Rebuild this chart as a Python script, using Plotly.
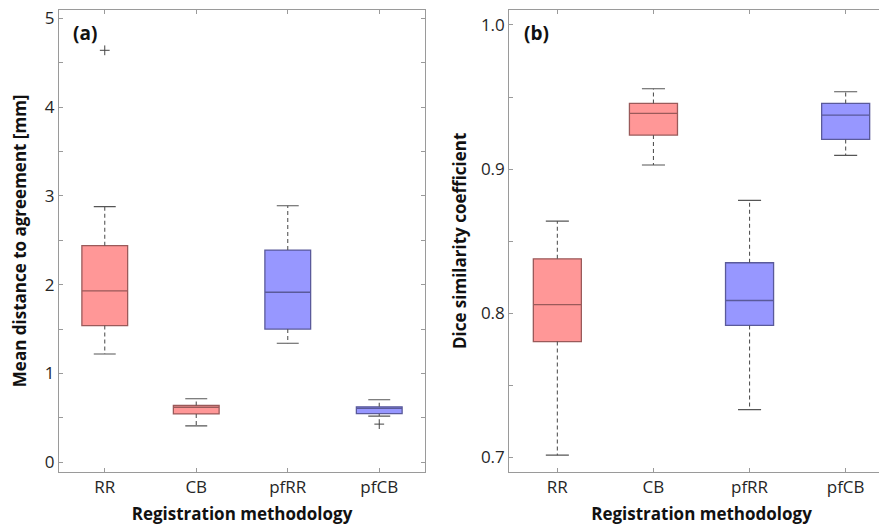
import plotly.graph_objects as go

categories = ["RR", "CB", "pfRR", "pfCB"]
positions = [1, 2, 3, 4]

# Panel (a): Mean distance to agreement [mm]
a_lower = [1.22, 0.41, 1.34, 0.52]
a_q1 = [1.54, 0.545, 1.50, 0.547]
a_median = [1.93, 0.62, 1.915, 0.608]
a_q3 = [2.44, 0.64, 2.39, 0.625]
a_upper = [2.88, 0.715, 2.89, 0.705]
a_out_x = ["RR", "pfCB"]
a_out_y = [4.64, 0.43]

# Panel (b): Dice similarity coefficient
b_lower = [0.7015, 0.9028, 0.7331, 0.9095]
b_q1 = [0.7803, 0.9236, 0.7915, 0.9206]
b_median = [0.806, 0.9387, 0.8088, 0.9375]
b_q3 = [0.8377, 0.9456, 0.8350, 0.9456]
b_upper = [0.8639, 0.9558, 0.8783, 0.9537]

a_yticks = [0, 0.5, 1, 1.5, 2, 2.5, 3, 3.5, 4, 4.5, 5]
a_yticklabels = ["0", "", "1", "", "2", "", "3", "", "4", "", "5"]
b_yticks = [0.7, 0.75, 0.8, 0.85, 0.9, 0.95, 1.0]
b_yticklabels = ["0.7", "", "0.8", "", "0.9", "", "1.0"]

red_fill = "#FF9797"
red_line = "#9A5A5A"
blue_fill = "#9797FF"
blue_line = "#5A5A9A"
whisk_col = "#555555"
FONT = "Open Sans"

W, H = 887, 526
OFF = 8  # page body margin offset


def px_x(v):
    return (v - OFF) / W


def px_y(v):
    return 1 - (v - OFF) / H


fig = go.Figure()


def add_panel(xref, yref, lower, q1, med, q3, upper):
    groups = [([0, 1], red_fill, red_line), ([2, 3], blue_fill, blue_line)]
    wx, wy, cx, cy = [], [], [], []
    for i in range(4):
        p = positions[i]
        wx += [p, p, None, p, p, None]
        wy += [q3[i], upper[i], None, q1[i], lower[i], None]
        cx += [p - 0.12, p + 0.12, None, p - 0.12, p + 0.12, None]
        cy += [upper[i], upper[i], None, lower[i], lower[i], None]
    fig.add_trace(go.Scatter(x=wx, y=wy, mode="lines", xaxis=xref, yaxis=yref,
                             line=dict(color=whisk_col, width=1.1, dash="4px,3px"),
                             hoverinfo="skip", showlegend=False))
    fig.add_trace(go.Scatter(x=cx, y=cy, mode="lines", xaxis=xref, yaxis=yref,
                             line=dict(color=whisk_col, width=1.1),
                             hoverinfo="skip", showlegend=False))
    for idx, fill, line in groups:
        fig.add_trace(go.Box(
            x=[positions[i] for i in idx],
            q1=[q1[i] for i in idx], median=[med[i] for i in idx],
            q3=[q3[i] for i in idx],
            lowerfence=[q1[i] for i in idx], upperfence=[q3[i] for i in idx],
            width=0.5, whiskerwidth=0, fillcolor=fill,
            line=dict(color=line, width=1.3), boxpoints=False,
            xaxis=xref, yaxis=yref, showlegend=False, name=""))


add_panel("x", "y", a_lower, a_q1, a_median, a_q3, a_upper)
add_panel("x2", "y2", b_lower, b_q1, b_median, b_q3, b_upper)

fig.add_trace(go.Scatter(
    x=[positions[categories.index(c)] for c in a_out_x], y=a_out_y,
    mode="markers", xaxis="x", yaxis="y",
    marker=dict(symbol="cross-thin", size=7, line=dict(color="#444444", width=1)),
    showlegend=False))

axis_common = dict(showline=True, linecolor="#9a9a9a", linewidth=1.2,
                   ticks="inside", ticklen=4, tickcolor="#9a9a9a",
                   showgrid=False, zeroline=False, automargin=False,
                   ticklabeloverflow="allow",
                   tickfont=dict(family=FONT, size=17, color="#262626"))
title_font = dict(family=FONT, size=17, color="#111111")

ydom = [px_y(471.7), px_y(10)]

fig.update_layout(
    width=W, height=H,
    margin=dict(l=0, r=0, t=0, b=0),
    paper_bgcolor="white", plot_bgcolor="white",
    showlegend=False,
    xaxis=dict(domain=[px_x(59), px_x(425)], range=[0.5, 4.5],
               tickvals=positions, ticktext=categories, mirror="ticks",
               title=dict(text="<b>Registration methodology</b>", font=title_font, standoff=10),
               anchor="y", **axis_common),
    yaxis=dict(domain=ydom, range=[-0.106, 5.094],
               tickvals=a_yticks, ticktext=a_yticklabels, mirror="ticks",
               title=dict(text="<b>Mean distance to agreement [mm]</b>", font=title_font, standoff=18),
               anchor="x", **axis_common),
    xaxis2=dict(domain=[px_x(509.3), px_x(893.7)], range=[0.5, 4.5],
                tickvals=positions, ticktext=categories, mirror="ticks",
                title=dict(text="<b>Registration methodology</b>", font=title_font, standoff=10),
                anchor="y2", **axis_common),
    yaxis2=dict(domain=ydom, range=[0.69, 1.0104],
                tickvals=b_yticks, ticktext=b_yticklabels, mirror="ticks",
                title=dict(text="<b>Dice similarity coefficient</b>", font=title_font, standoff=9),
                anchor="x2", **axis_common),
    annotations=[
        dict(text="<b>(a)</b>", xref="x domain", yref="y domain", x=0.033, y=0.983,
             xanchor="left", yanchor="top", showarrow=False,
             font=dict(family=FONT, size=19, color="#111111")),
        dict(text="<b>(b)</b>", xref="x2 domain", yref="y2 domain", x=0.033, y=0.983,
             xanchor="left", yanchor="top", showarrow=False,
             font=dict(family=FONT, size=19, color="#111111")),
    ],
)

fig.write_html("out.html")
